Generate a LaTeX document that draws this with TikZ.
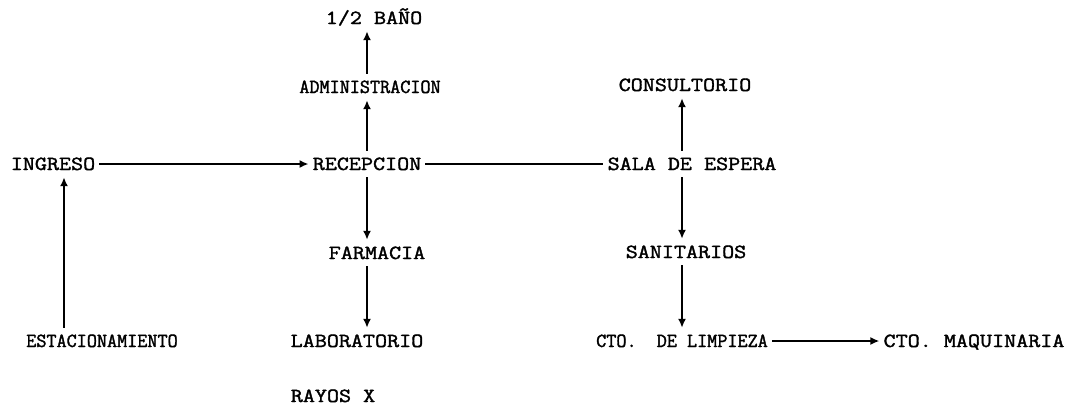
\documentclass[tikz,border=0pt]{standalone}
\usepackage{fontspec}
\newfontfamily\tw{Latin Modern Mono}[FakeStretch=1.17,FakeBold=1.8]
\newfontfamily\twc{Latin Modern Mono}[FakeStretch=0.98,FakeBold=1.8]
\usetikzlibrary{arrows.meta}

\begin{document}
\begin{tikzpicture}[x=1pt,y=-1pt,>={Latex[length=9pt,width=8pt]},
 t/.style={font=\tw\fontsize{20}{24}\selectfont,text height=12pt,text depth=0pt,inner xsep=4pt,inner ysep=7pt},
 tc/.style={t,font=\twc\fontsize{20}{24}\selectfont},
 ar/.style={->,line width=1.9pt},
 ln/.style={line width=1.9pt}]
 \useasboundingbox (0,0) rectangle (1071,405);
 % centre column
 \node[t] (ban) at (374,18) {1/2 BAÑO};
 \node[tc] (adm) at (370,87) {ADMINISTRACION};
 \node[t] (rec) at (367,164) {RECEPCION};
 \node[t] (farm) at (377,253) {FARMACIA};
 \node[t] (lab) at (357,341) {LABORATORIO};
 \node[t] (ray) at (333,396) {RAYOS X};
 % left
 \node[t] (ing) at (53,164) {INGRESO};
 \node[tc] (est) at (102,341) {ESTACIONAMIENTO};
 % right
 \node[t] (cons) at (685,85) {CONSULTORIO};
 \node[t] (sala) at (692,164) {SALA DE ESPERA};
 \node[t] (san) at (686,252) {SANITARIOS};
 \node[tc] (lim) at (682,341) {CTO.\ \ DE LIMPIEZA};
 \node[t] (maq) at (974,341) {CTO. MAQUINARIA};
 % connections
 \draw[ar] (ing) -- (rec);
 \draw[ln] (rec) -- (sala);
 \draw[ar] ([xshift=11pt]ing.south |- est.north) -- ([xshift=11pt]ing.south);
 \draw[ar] (rec.north) -- (rec.north |- adm.south);
 \draw[ar] (adm.north -| rec) -- (ban.south -| rec);
 \draw[ar] (rec.south) -- (farm.north -| rec);
 \draw[ar] (farm.south -| rec) -- (lab.north -| rec);
 \draw[ar] (sala.north -| lim) -- (cons.south -| lim);
 \draw[ar] (sala.south -| lim) -- (san.north -| lim);
 \draw[ar] (san.south -| lim) -- (lim.north);
 \draw[ar] (lim) -- (maq);
\end{tikzpicture}
\end{document}
